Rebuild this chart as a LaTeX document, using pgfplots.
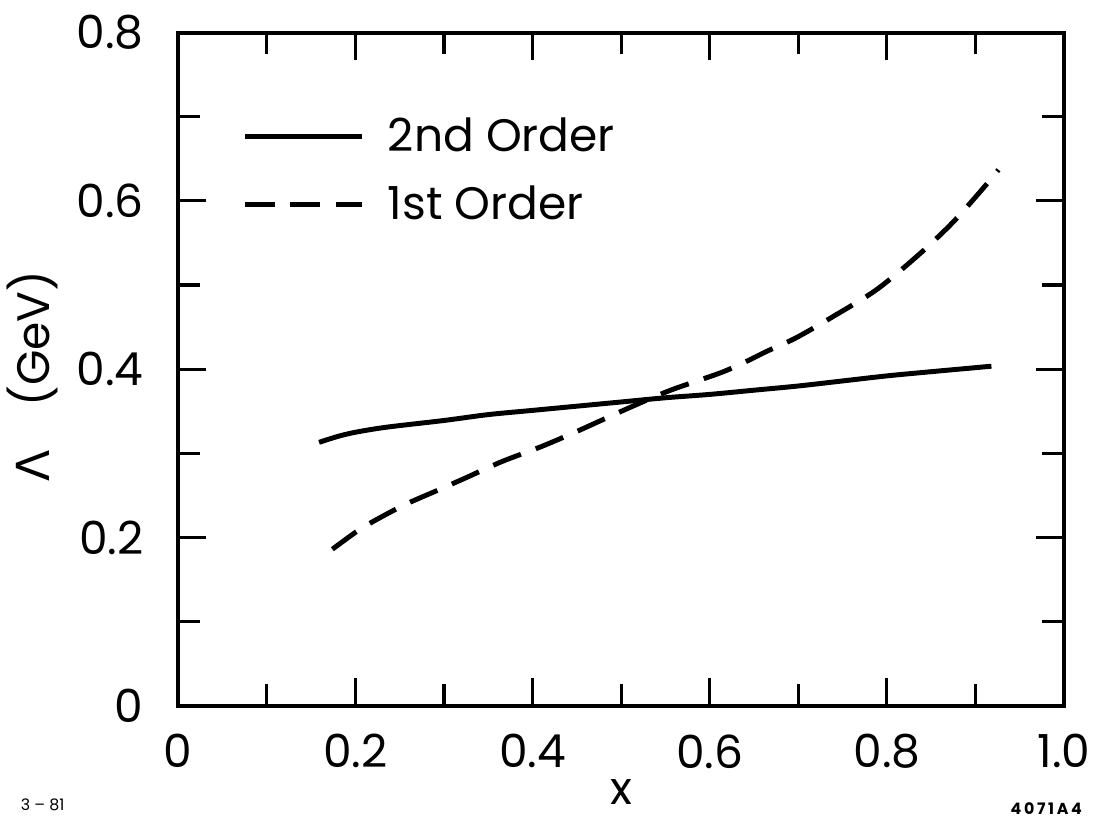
\documentclass[border=0pt]{standalone}
\usepackage{pgfplots}
\pgfplotsset{compat=1.18}
\usepackage{fontspec}
\setmainfont{Poppins}
\newfontfamily\greekfont{DejaVu Sans}
\begin{document}
\begin{tikzpicture}
\begin{axis}[
  name=ax,
  scale only axis,
  width=447.5pt, height=340pt,
  xmin=0, xmax=1.0, ymin=0, ymax=0.8,
  xtick={0,0.2,0.4,0.6,0.8,1.0},
  xticklabels={0,0.2,0.4,0.6,0.8,1.0},
  ytick={0,0.2,0.4,0.6,0.8},
  yticklabels={0,0.2,0.4,0.6,0.8},
  minor xtick={0.1,0.3,0.5,0.7,0.9},
  minor ytick={0.1,0.3,0.5,0.7},
  tick align=inside,
  major tick length=14pt,
  minor tick length=11pt,
  axis line style={line width=2pt},
  every tick/.style={black, line width=1.6pt},
  tick label style={font=\fontsize{23}{26}\selectfont},
  xticklabel style={yshift=-11pt},
  yticklabel style={xshift=-14pt},
  xlabel={x},
  ylabel={{\greekfont Λ}\hspace{22pt}(GeV)},
  label style={font=\fontsize{23}{26}\selectfont},
  xlabel style={at={(axis description cs:0.5,-0.128)}, anchor=center},
  ylabel style={at={(axis description cs:-0.165,0.49)}, anchor=center, rotate=0},
  legend style={at={(rel axis cs:0.072,0.88)}, anchor=north west, draw=none, fill=none,
    font=\fontsize{23}{26}\selectfont, row sep=12pt, inner sep=0pt},
  legend cell align=left,
  legend image code/.code={\draw[#1] (0pt,0pt) -- (59pt,0pt);},
  clip=false,
]
\addplot[black, line width=2.5pt, smooth] coordinates {
 (0.159,0.313) (0.18,0.320) (0.2,0.325) (0.235,0.331) (0.3,0.339) (0.35,0.346)
 (0.4,0.351) (0.45,0.356) (0.5,0.361) (0.55,0.366) (0.6,0.370) (0.65,0.375)
 (0.7,0.380) (0.75,0.386) (0.8,0.392) (0.85,0.397) (0.918,0.4035)};
\addlegendentry{\hspace{10pt}2nd Order}
\addplot[black, line width=2.5pt, dash pattern=on 15pt off 8pt, smooth] coordinates {
 (0.174,0.186) (0.2,0.206) (0.215,0.216) (0.254,0.238) (0.295,0.257) (0.325,0.271)
 (0.365,0.290) (0.41,0.308) (0.45,0.326) (0.494,0.347) (0.535,0.366) (0.561,0.377)
 (0.613,0.396) (0.643,0.410) (0.664,0.421) (0.697,0.437) (0.74,0.463) (0.789,0.495)
 (0.837,0.537) (0.874,0.574) (0.907,0.613) (0.926,0.637)};
\addlegendentry{\hspace{10pt}1st Order}
\end{axis}
\node[anchor=west, font=\fontsize{8}{9}\selectfont] at (-83pt,-50pt) {3 -- 81};
\node[anchor=east, font=\bfseries\fontsize{8}{9}\selectfont] at (460pt,-52pt) {4\,0\,7\,1\,A\,4};
\useasboundingbox (-85.5pt,-57pt) rectangle (463pt,356.5pt);
\end{tikzpicture}
\end{document}
